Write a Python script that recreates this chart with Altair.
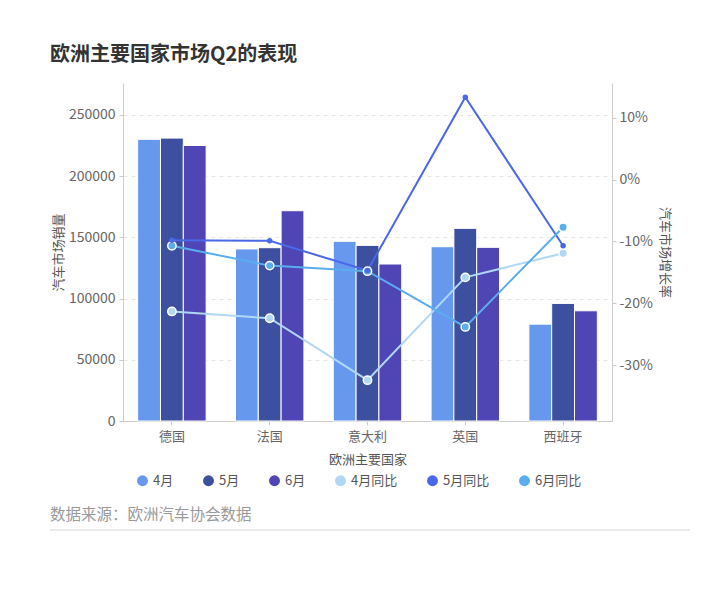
import altair as alt
import pandas as pd

countries = ["德国", "法国", "意大利", "英国", "西班牙"]
bar_series = ["4月", "5月", "6月"]
line_series = ["4月同比", "5月同比", "6月同比"]
sales_apr = [230000, 140500, 146700, 142300, 79100]
sales_may = [231000, 141500, 143400, 157300, 96000]
sales_jun = [225000, 171700, 128200, 141800, 90000]
yoy_apr = [-21.3, -22.4, -32.4, -15.8, -11.9]
yoy_may = [-9.8, -9.9, -14.7, 13.3, -10.7]
yoy_jun = [-10.7, -13.9, -14.8, -23.8, -7.7]
left_ticks = [0, 50000, 100000, 150000, 200000, 250000]
right_ticks = [-30, -20, -10, 0, 10]
colors = ["#6699EE", "#3D4F9F", "#5045B5", "#B0D8F5", "#4A68E8", "#5AADEE"]
title_text = "欧洲主要国家市场Q2的表现"
source_text = "数据来源：欧洲汽车协会数据"

bar_rows = []
for s, vals in zip(bar_series, [sales_apr, sales_may, sales_jun]):
    for c, v in zip(countries, vals):
        bar_rows.append({"国家": c, "系列": s, "销量": v})
bar_df = pd.DataFrame(bar_rows)

line_rows = []
for s, vals in zip(line_series, [yoy_apr, yoy_may, yoy_jun]):
    for c, v in zip(countries, vals):
        line_rows.append({"国家": c, "系列": s, "同比": v})
line_df = pd.DataFrame(line_rows)

all_series = bar_series + line_series
color_scale = alt.Scale(domain=all_series, range=colors)

x_enc = alt.X("国家:N", sort=countries,
              scale=alt.Scale(paddingInner=0.3, paddingOuter=0.15),
              axis=alt.Axis(title="欧洲主要国家", labelAngle=0, labelPadding=5,
                            labelFontSize=13, titlePadding=10, tickSize=4,
                            domainColor="#cccccc"))

legend = alt.Legend(title=None, orient="none", legendX=13, legendY=391,
                    direction="horizontal", symbolType="circle", symbolSize=120,
                    labelFontSize=13, labelColor="#555555", columnPadding=28,
                    symbolStrokeWidth=0)

bars = alt.Chart(bar_df).mark_bar(stroke="white", strokeWidth=1).encode(
    x=x_enc,
    xOffset=alt.XOffset("系列:N", sort=bar_series),
    y=alt.Y("销量:Q", scale=alt.Scale(domain=[0, 276000], nice=False),
            axis=alt.Axis(title="汽车市场销量", values=left_ticks, format="d",
                          grid=True, gridDash=[4, 4], gridColor="#e6e6e6",
                          tickSize=4, labelPadding=4, titlePadding=3,
                          labelFontSize=14)),
    color=alt.Color("系列:N", scale=color_scale, legend=legend),
)

y_right = alt.Y("同比:Q", scale=alt.Scale(domain=[-39, 15.6], nice=False),
                axis=alt.Axis(title="汽车市场增长率", orient="right", values=right_ticks,
                              labelExpr="datum.value + '%'", grid=False,
                              tickSize=4, labelPadding=3, titlePadding=5,
                              labelFontSize=14))

lines = alt.Chart(line_df).mark_line(strokeWidth=2).encode(
    x=alt.X("国家:N", sort=countries),
    y=y_right,
    color=alt.Color("系列:N", scale=color_scale, legend=legend),
)

big_pts = alt.Chart(line_df).transform_filter(
    alt.FieldOneOfPredicate(field="系列", oneOf=["4月同比", "6月同比"])
).mark_circle(size=70, opacity=1, stroke="white", strokeWidth=1.5).encode(
    x=alt.X("国家:N", sort=countries),
    y=y_right,
    color=alt.Color("系列:N", scale=color_scale, legend=legend),
)

small_pts = alt.Chart(line_df).transform_filter(
    alt.FieldEqualPredicate(field="系列", equal="5月同比")
).mark_circle(size=30, opacity=1).encode(
    x=alt.X("国家:N", sort=countries),
    y=y_right,
    color=alt.Color("系列:N", scale=color_scale, legend=legend),
)

line_layer = alt.layer(lines, big_pts, small_pts)

source = alt.Chart(pd.DataFrame({"t": [source_text]})).mark_text(
    align="left", baseline="middle", fontSize=15.5, color="#9a9a9a",
    font="Noto Sans CJK SC"
).encode(text="t:N", x=alt.value(-73), y=alt.value(432))

sep = alt.Chart(pd.DataFrame({"a": [0]})).mark_rule(color="#e3e3e3", strokeWidth=1.5).encode(
    x=alt.value(-73), x2=alt.value(567), y=alt.value(447)
)

chart = alt.layer(bars, line_layer).resolve_scale(y="independent")
chart = alt.layer(chart, source, sep).properties(
    width=489, height=338,
    title=alt.TitleParams(title_text, anchor="start", frame="group", dx=-73,
                          fontSize=20, fontWeight="bold", color="#333333", offset=18),
    autosize=alt.AutoSizeParams(type="none"),
    padding={"left": 115, "top": 75, "right": 90, "bottom": 140},
    background="white",
).configure(font="Noto Sans CJK SC").configure_axis(
    labelColor="#666666", titleColor="#555555", titleFontSize=13,
    titleFontWeight="normal", domainColor="#cccccc", tickColor="#cccccc",
).configure_view(stroke=None)

chart.save("out.html", embed_options={"renderer": "svg", "actions": False})
